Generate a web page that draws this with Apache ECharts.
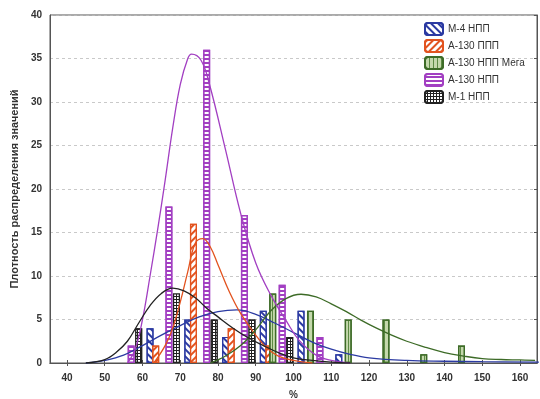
<!DOCTYPE html>
<html>
<head>
<meta charset="utf-8">
<script src="https://cdn.jsdelivr.net/npm/echarts@6/dist/echarts.min.js"></script>
<style>
  html, body { margin: 0; padding: 0; background: #fff; }
  #chart { width: 540px; height: 399px; }
</style>
</head>
<body>
<div id="chart"></div>
<script>
// категории
const names = ['М-4 НПП', 'А-130 ППП', 'А-130 НПП Мега', 'А-130 НПП', 'М-1 НПП']
const xTicks = [40, 50, 60, 70, 80, 90, 100, 110, 120, 130, 140, 150, 160]

// гистограммы (центр интервала, частота)
const m4X = [62, 72, 82, 92, 102, 112]
const m4Y = [4, 5, 3, 6, 6, 1]
const pppX = [63.5, 73.5, 83.5, 93.5]
const pppY = [2, 16, 4, 2]
const megaX = [94.5, 104.5, 114.5, 124.5, 134.5, 144.5]
const megaY = [8, 6, 5, 5, 1, 2]
const nppX = [57, 67, 77, 87, 97, 107]
const nppY = [2, 18, 36, 17, 9, 3]
const m1X = [59, 69, 79, 89, 99]
const m1Y = [4, 8, 5, 5, 3]

// кривые плотности
const m4CurveX = [45, 50, 55, 60, 65, 70, 75, 80, 85, 90, 95, 100, 105, 110, 115, 120, 130, 140, 150, 165]
const m4CurveY = [0, 0.3, 0.9, 2.0, 3.2, 4.3, 5.3, 5.9, 6.1, 5.6, 4.6, 3.5, 2.4, 1.6, 1.0, 0.6, 0.3, 0.2, 0.15, 0.1]
const pppCurveX = [63, 66, 68, 70, 72, 74, 76, 78, 80, 83, 86, 90, 93, 96, 100, 105]
const pppCurveY = [0, 2, 4, 7, 10.5, 13.8, 14.3, 13.3, 11.3, 8.2, 5.7, 3.2, 1.7, 0.8, 0.3, 0]
const megaCurveX = [78, 82, 86, 90, 94, 98, 102, 106, 110, 114, 118, 122, 126, 130, 135, 140, 145, 150, 155, 160, 164]
const megaCurveY = [0, 0.8, 2.0, 3.8, 6.0, 7.4, 7.9, 7.6, 6.8, 5.9, 4.9, 4.0, 3.2, 2.5, 1.8, 1.2, 0.8, 0.5, 0.4, 0.35, 0.3]
const nppCurveX = [56, 58, 60, 62, 64, 66, 68, 70, 72, 73, 75.5, 77.7, 82, 86, 90, 94, 98, 101.5, 106, 110, 115]
const nppCurveY = [0, 1.5, 5, 10, 15.3, 21, 27, 32, 35, 35.5, 34.8, 32.1, 24.5, 17.2, 11.5, 7.8, 4.9, 2.6, 0.9, 0.3, 0]
const m1CurveX = [45, 50, 53, 56, 59, 62, 65, 68, 71, 74, 77, 80, 84, 88, 92, 96, 100, 105, 110, 115]
const m1CurveY = [0, 0.4, 1.2, 2.5, 4.6, 6.6, 8.0, 8.6, 8.3, 7.5, 6.3, 5.3, 4.0, 2.9, 2.0, 1.2, 0.6, 0.3, 0.1, 0]

const colors = ['#2b3aa2', '#e2531f', '#3d6b27', '#a23fc2', '#222222']

const pairs = (xs, ys) => xs.map((x, i) => [x, ys[i]])

const barStyles = [
  { color: '#fff', borderColor: colors[0], borderWidth: 1.2,
    decal: { symbol: 'rect', color: colors[0], dashArrayX: [1, 0], dashArrayY: [1.3, 2.5], rotation: Math.PI / 4 } },
  { color: '#fff', borderColor: colors[1], borderWidth: 1.2,
    decal: { symbol: 'rect', color: colors[1], dashArrayX: [1, 0], dashArrayY: [1.3, 2.5], rotation: -Math.PI / 4 } },
  { color: '#c4d8ac', borderColor: colors[2], borderWidth: 1.3,
    decal: { symbol: 'rect', color: '#5d8a44', dashArrayX: [1, 2.5], dashArrayY: [1, 0] } },
  { color: colors[3], borderColor: colors[3], borderWidth: 1.5,
    decal: { symbol: 'rect', color: '#fff', dashArrayX: [1, 0], dashArrayY: [1.8, 1.5] } },
  { color: colors[4], borderColor: colors[4], borderWidth: 1.2,
    decal: { symbol: 'rect', color: '#fff', dashArrayX: [1.6, 1], dashArrayY: [1.6, 1] } }
]

const barData = [pairs(m4X, m4Y), pairs(pppX, pppY), pairs(megaX, megaY), pairs(nppX, nppY), pairs(m1X, m1Y)]
const curveData = [
  pairs(m4CurveX, m4CurveY), pairs(pppCurveX, pppCurveY), pairs(megaCurveX, megaCurveY),
  pairs(nppCurveX, nppCurveY), pairs(m1CurveX, m1CurveY)
]

const chart = echarts.init(document.getElementById('chart'))

const series = []
names.forEach((name, i) => {
  series.push({
    name: name,
    type: 'bar',
    barWidth: 7,
    barGap: '-100%',
    itemStyle: barStyles[i],
    data: barData[i],
    z: 2
  })
})
names.forEach((name, i) => {
  series.push({
    name: name,
    type: 'line',
    smooth: 0.4,
    showSymbol: false,
    lineStyle: { color: colors[i], width: 1.3 },
    itemStyle: { color: colors[i] },
    data: curveData[i],
    z: 3
  })
})

const axisFont = { fontFamily: 'Liberation Sans', fontWeight: 'bold', fontSize: 10, color: '#333' }

const option = {
  animation: false,
  backgroundColor: '#fff',
  grid: {
    left: 50, right: 3, top: 15, bottom: 36,
    outerBoundsMode: 'none',
    show: true, borderColor: '#555', borderWidth: 1
  },
  legend: {
    data: names,
    orient: 'vertical',
    left: 419,
    top: 17,
    itemWidth: 18,
    itemHeight: 12,
    itemGap: 3,
    textStyle: { fontFamily: 'Liberation Sans', fontSize: 10, color: '#333' }
  },
  xAxis: [
    {
      type: 'value',
      min: 35.5,
      max: 164.5,
      name: '%',
      nameLocation: 'middle',
      nameGap: 27,
      nameTextStyle: axisFont,
      axisLine: { lineStyle: { color: '#555' } },
      axisTick: { inside: true, length: 3, customValues: xTicks, lineStyle: { color: '#555' } },
      axisLabel: { ...axisFont, margin: 10, customValues: xTicks },
      splitLine: { show: false }
    },
    {
      type: 'value',
      position: 'top',
      min: 35.5,
      max: 164.5,
      axisLine: { lineStyle: { color: '#555' } },
      axisTick: { inside: true, length: 3, customValues: xTicks, lineStyle: { color: '#555' } },
      axisLabel: { show: false, customValues: xTicks },
      splitLine: { show: false }
    }
  ],
  yAxis: [
    {
      type: 'value',
      min: 0,
      max: 40,
      interval: 5,
      name: 'Плотность распределения значений',
      nameLocation: 'middle',
      nameGap: 24,
      nameTextStyle: { fontFamily: 'Liberation Sans', fontWeight: 'bold', fontSize: 11, color: '#333' },
      axisLine: { show: true, lineStyle: { color: '#555' } },
      axisTick: { show: false },
      axisLabel: { ...axisFont, margin: 8 },
      splitLine: { lineStyle: { color: '#bbb', type: [3, 3], width: 0.8 } }
    },
    {
      type: 'value',
      position: 'right',
      min: 0,
      max: 40,
      interval: 5,
      axisLine: { show: true, lineStyle: { color: '#555' } },
      axisTick: { inside: true, length: 3, lineStyle: { color: '#555' } },
      axisLabel: { show: false },
      splitLine: { show: false }
    }
  ],
  series: series
}

chart.setOption(option)
</script>
</body>
</html>
